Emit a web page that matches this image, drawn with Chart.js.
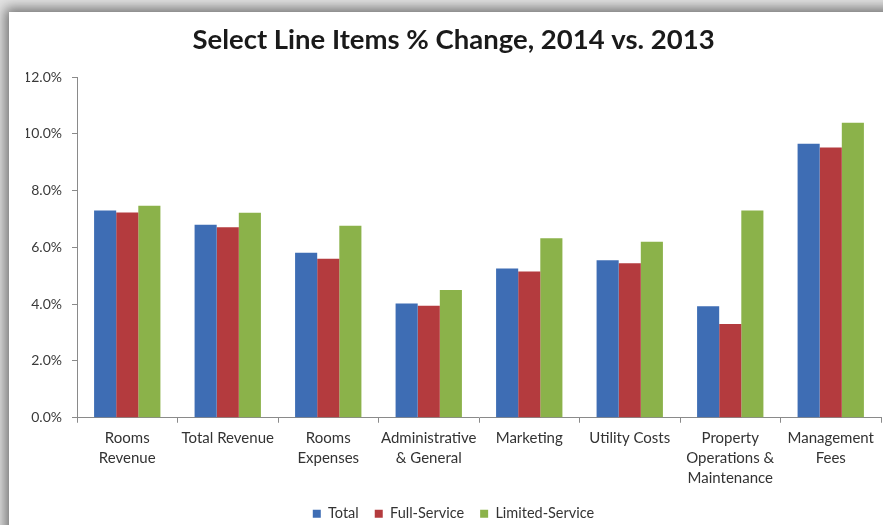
<!DOCTYPE html>
<html>
<head>
<meta charset="utf-8">
<script src="https://cdn.jsdelivr.net/npm/chart.js@4"></script>
<style>
  html, body { margin: 0; padding: 0; width: 883px; height: 525px; overflow: hidden; background: #e4e4e4; }
  #panel { position: absolute; left: 9px; top: 12px; width: 900px; height: 540px; background: #ffffff;
           box-shadow: 0 0 12px 4px rgba(0,0,0,0.5); }
  #wrap { position: absolute; left: 0; top: 0; width: 883px; height: 525px; overflow: hidden; }
</style>
</head>
<body>
<div id="panel"></div>
<div id="wrap"><canvas id="c" width="883" height="531"></canvas></div>
<script>
const categories = [
  ['Rooms', 'Revenue'],
  ['Total Revenue'],
  ['Rooms', 'Expenses'],
  ['Administrative', '& General'],
  ['Marketing'],
  ['Utility Costs'],
  ['Property', 'Operations &', 'Maintenance'],
  ['Management', 'Fees']
];
const totalValues        = [7.30, 6.80, 5.81, 4.02, 5.26, 5.55, 3.93, 9.65];
const fullServiceValues  = [7.23, 6.71, 5.60, 3.94, 5.15, 5.44, 3.30, 9.52];
const limitedServiceValues = [7.47, 7.22, 6.76, 4.50, 6.32, 6.20, 7.30, 10.39];
const seriesNames = ['Total', 'Full-Service', 'Limited-Service'];
const yTickMin = 0, yTickMax = 12, yTickStep = 2;

const FONT = 'Lato, "Open Sans", sans-serif';
const colors = ['#3e6db4', '#b43b3e', '#8bb24a'];

new Chart(document.getElementById('c'), {
  type: 'bar',
  data: {
    labels: categories,
    datasets: [
      { label: seriesNames[0], data: totalValues, backgroundColor: colors[0] },
      { label: seriesNames[1], data: fullServiceValues, backgroundColor: colors[1] },
      { label: seriesNames[2], data: limitedServiceValues, backgroundColor: colors[2] }
    ]
  },
  options: {
    responsive: false,
    animation: false,
    devicePixelRatio: 1,
    layout: { padding: { left: 26, right: 2, top: 0, bottom: 0 } },
    datasets: { bar: { categoryPercentage: 0.66, barPercentage: 1.0 } },
    plugins: {
      title: {
        display: true,
        text: 'Select Line Items % Change, 2014 vs. 2013',
        color: '#1a1a1a',
        font: { family: FONT, size: 27.5, weight: 'bold' },
        padding: { top: 24, bottom: 20 }
      },
      legend: {
        position: 'bottom',
        labels: {
          boxWidth: 8, boxHeight: 8, padding: 16,
          color: '#333333',
          font: { family: FONT, size: 14.5 }
        }
      },
      tooltip: { enabled: false }
    },
    scales: {
      x: {
        afterFit: s => { s.height -= 3; },
        grid: { display: true, drawOnChartArea: false, offset: true, tickLength: 5, color: '#8a8a8a' },
        border: { color: '#8a8a8a', width: 1 },
        ticks: { color: '#333333', font: { family: FONT, size: 15, lineHeight: 1.35 }, padding: 5, maxRotation: 0, autoSkip: false }
      },
      y: {
        min: yTickMin, max: yTickMax,
        afterFit: s => { s.width = 51; },
        grid: { display: true, drawOnChartArea: false, tickLength: 5, color: '#8a8a8a' },
        border: { color: '#8a8a8a', width: 1 },
        ticks: {
          stepSize: yTickStep,
          color: '#3a3a3a',
          font: { family: FONT, size: 14 },
          padding: 10,
          callback: v => v.toFixed(1) + '%'
        }
      }
    }
  }
});
</script>
</body>
</html>
